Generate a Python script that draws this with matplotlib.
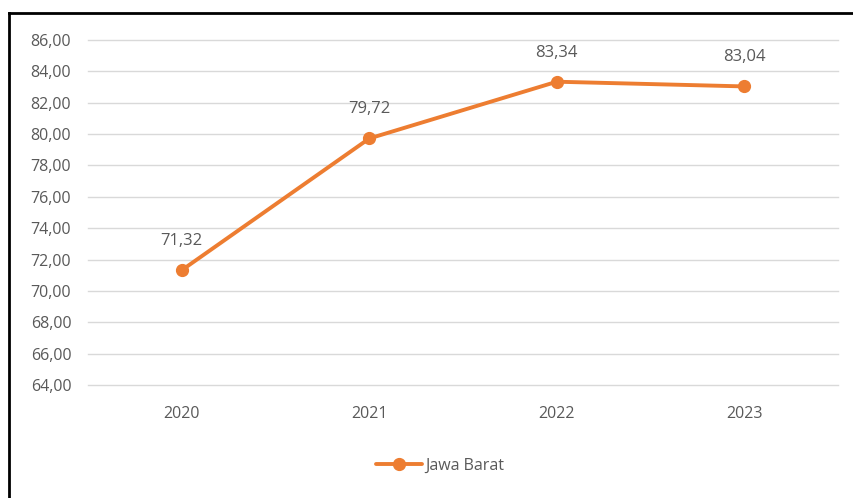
import matplotlib
matplotlib.use("Agg")
import matplotlib.pyplot as plt
from matplotlib.lines import Line2D

# ------------- Data -------------
years = ["2020", "2021", "2022", "2023"]
values = [71.32, 79.72, 83.34, 83.04]
series_name = "Jawa Barat"
y_ticks = [64, 66, 68, 70, 72, 74, 76, 78, 80, 82, 84, 86]

ORANGE = "#ED7D31"
TEXT = "#595959"

plt.rcParams["font.family"] = ["Open Sans", "DejaVu Sans"]

fig = plt.figure(figsize=(8.54, 4.98), dpi=100)
ax = fig.add_axes([88 / 854, 1 - 385 / 498, 750 / 854, 345 / 498])

x = range(len(years))
ax.plot(x, values, color=ORANGE, lw=2.8, marker="o", ms=8.5, label=series_name,
        solid_capstyle="round", zorder=3)

for xi, v in zip(x, values):
    ax.annotate(f"{v:.2f}".replace(".", ","), (xi, v), xytext=(0, 21),
                textcoords="offset points", ha="center", va="center",
                fontsize=12, color=TEXT)

ax.set_xlim(-0.5, len(years) - 0.5)
ax.set_ylim(64, 86)
ax.set_xticks(list(x))
ax.set_xticklabels(years)
ax.set_yticks(y_ticks)
ax.set_yticklabels([f"{t:.2f}".replace(".", ",") for t in y_ticks])
ax.tick_params(axis="both", length=0, colors=TEXT, labelsize=11.5)
ax.tick_params(axis="x", pad=15)
ax.tick_params(axis="y", pad=12)
ax.grid(axis="y", color="#D9D9D9", lw=1)
for gl in ax.get_ygridlines():
    gl.set_clip_on(False)
ax.set_axisbelow(True)
for s in ax.spines.values():
    s.set_visible(False)

leg = fig.legend(loc="center", bbox_to_anchor=(440 / 854, 1 - 466 / 498), frameon=False,
                 fontsize=11.5, handlelength=2.9, handletextpad=0.15)
for t in leg.get_texts():
    t.set_color(TEXT)

# outer frame (top and left edges visible)
fig.add_artist(Line2D([9 / 854, 1], [1 - 13 / 498] * 2, color="black", lw=2,
                      transform=fig.transFigure))
fig.add_artist(Line2D([9 / 854] * 2, [0, 1 - 13 / 498], color="black", lw=2,
                      transform=fig.transFigure))

fig.savefig("out.png", dpi=100)
